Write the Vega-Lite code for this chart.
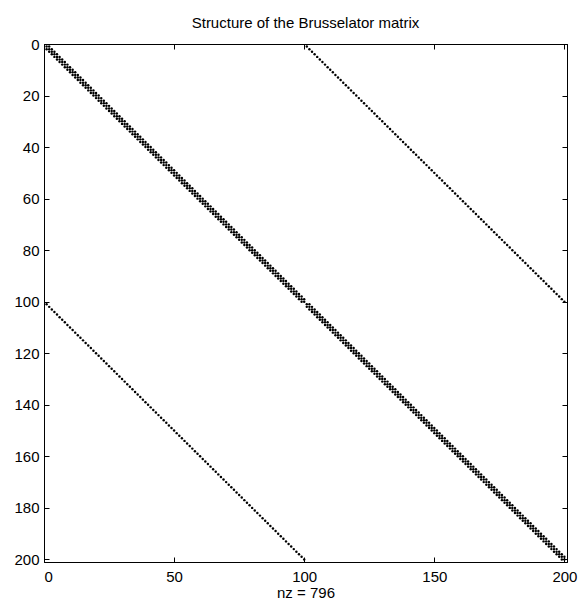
{
  "$schema": "https://vega.github.io/schema/vega-lite/v6.json",
  "width": 523,
  "height": 518,
  "autosize": "none",
  "padding": {"left": 44, "top": 44, "right": 11, "bottom": 42},
  "background": "white",
  "title": {"text": "Structure of the Brusselator matrix", "font": "Liberation Sans", "fontSize": 15, "fontWeight": "normal", "color": "black", "anchor": "middle", "offset": 6},
  "data": {"values": [
{"i":1,"j":1},{"i":1,"j":2},{"i":2,"j":1},
{"i":2,"j":2},{"i":2,"j":3},{"i":3,"j":2},
{"i":3,"j":3},{"i":3,"j":4},{"i":4,"j":3},
{"i":4,"j":4},{"i":4,"j":5},{"i":5,"j":4},
{"i":5,"j":5},{"i":5,"j":6},{"i":6,"j":5},
{"i":6,"j":6},{"i":6,"j":7},{"i":7,"j":6},
{"i":7,"j":7},{"i":7,"j":8},{"i":8,"j":7},
{"i":8,"j":8},{"i":8,"j":9},{"i":9,"j":8},
{"i":9,"j":9},{"i":9,"j":10},{"i":10,"j":9},
{"i":10,"j":10},{"i":10,"j":11},{"i":11,"j":10},
{"i":11,"j":11},{"i":11,"j":12},{"i":12,"j":11},
{"i":12,"j":12},{"i":12,"j":13},{"i":13,"j":12},
{"i":13,"j":13},{"i":13,"j":14},{"i":14,"j":13},
{"i":14,"j":14},{"i":14,"j":15},{"i":15,"j":14},
{"i":15,"j":15},{"i":15,"j":16},{"i":16,"j":15},
{"i":16,"j":16},{"i":16,"j":17},{"i":17,"j":16},
{"i":17,"j":17},{"i":17,"j":18},{"i":18,"j":17},
{"i":18,"j":18},{"i":18,"j":19},{"i":19,"j":18},
{"i":19,"j":19},{"i":19,"j":20},{"i":20,"j":19},
{"i":20,"j":20},{"i":20,"j":21},{"i":21,"j":20},
{"i":21,"j":21},{"i":21,"j":22},{"i":22,"j":21},
{"i":22,"j":22},{"i":22,"j":23},{"i":23,"j":22},
{"i":23,"j":23},{"i":23,"j":24},{"i":24,"j":23},
{"i":24,"j":24},{"i":24,"j":25},{"i":25,"j":24},
{"i":25,"j":25},{"i":25,"j":26},{"i":26,"j":25},
{"i":26,"j":26},{"i":26,"j":27},{"i":27,"j":26},
{"i":27,"j":27},{"i":27,"j":28},{"i":28,"j":27},
{"i":28,"j":28},{"i":28,"j":29},{"i":29,"j":28},
{"i":29,"j":29},{"i":29,"j":30},{"i":30,"j":29},
{"i":30,"j":30},{"i":30,"j":31},{"i":31,"j":30},
{"i":31,"j":31},{"i":31,"j":32},{"i":32,"j":31},
{"i":32,"j":32},{"i":32,"j":33},{"i":33,"j":32},
{"i":33,"j":33},{"i":33,"j":34},{"i":34,"j":33},
{"i":34,"j":34},{"i":34,"j":35},{"i":35,"j":34},
{"i":35,"j":35},{"i":35,"j":36},{"i":36,"j":35},
{"i":36,"j":36},{"i":36,"j":37},{"i":37,"j":36},
{"i":37,"j":37},{"i":37,"j":38},{"i":38,"j":37},
{"i":38,"j":38},{"i":38,"j":39},{"i":39,"j":38},
{"i":39,"j":39},{"i":39,"j":40},{"i":40,"j":39},
{"i":40,"j":40},{"i":40,"j":41},{"i":41,"j":40},
{"i":41,"j":41},{"i":41,"j":42},{"i":42,"j":41},
{"i":42,"j":42},{"i":42,"j":43},{"i":43,"j":42},
{"i":43,"j":43},{"i":43,"j":44},{"i":44,"j":43},
{"i":44,"j":44},{"i":44,"j":45},{"i":45,"j":44},
{"i":45,"j":45},{"i":45,"j":46},{"i":46,"j":45},
{"i":46,"j":46},{"i":46,"j":47},{"i":47,"j":46},
{"i":47,"j":47},{"i":47,"j":48},{"i":48,"j":47},
{"i":48,"j":48},{"i":48,"j":49},{"i":49,"j":48},
{"i":49,"j":49},{"i":49,"j":50},{"i":50,"j":49},
{"i":50,"j":50},{"i":50,"j":51},{"i":51,"j":50},
{"i":51,"j":51},{"i":51,"j":52},{"i":52,"j":51},
{"i":52,"j":52},{"i":52,"j":53},{"i":53,"j":52},
{"i":53,"j":53},{"i":53,"j":54},{"i":54,"j":53},
{"i":54,"j":54},{"i":54,"j":55},{"i":55,"j":54},
{"i":55,"j":55},{"i":55,"j":56},{"i":56,"j":55},
{"i":56,"j":56},{"i":56,"j":57},{"i":57,"j":56},
{"i":57,"j":57},{"i":57,"j":58},{"i":58,"j":57},
{"i":58,"j":58},{"i":58,"j":59},{"i":59,"j":58},
{"i":59,"j":59},{"i":59,"j":60},{"i":60,"j":59},
{"i":60,"j":60},{"i":60,"j":61},{"i":61,"j":60},
{"i":61,"j":61},{"i":61,"j":62},{"i":62,"j":61},
{"i":62,"j":62},{"i":62,"j":63},{"i":63,"j":62},
{"i":63,"j":63},{"i":63,"j":64},{"i":64,"j":63},
{"i":64,"j":64},{"i":64,"j":65},{"i":65,"j":64},
{"i":65,"j":65},{"i":65,"j":66},{"i":66,"j":65},
{"i":66,"j":66},{"i":66,"j":67},{"i":67,"j":66},
{"i":67,"j":67},{"i":67,"j":68},{"i":68,"j":67},
{"i":68,"j":68},{"i":68,"j":69},{"i":69,"j":68},
{"i":69,"j":69},{"i":69,"j":70},{"i":70,"j":69},
{"i":70,"j":70},{"i":70,"j":71},{"i":71,"j":70},
{"i":71,"j":71},{"i":71,"j":72},{"i":72,"j":71},
{"i":72,"j":72},{"i":72,"j":73},{"i":73,"j":72},
{"i":73,"j":73},{"i":73,"j":74},{"i":74,"j":73},
{"i":74,"j":74},{"i":74,"j":75},{"i":75,"j":74},
{"i":75,"j":75},{"i":75,"j":76},{"i":76,"j":75},
{"i":76,"j":76},{"i":76,"j":77},{"i":77,"j":76},
{"i":77,"j":77},{"i":77,"j":78},{"i":78,"j":77},
{"i":78,"j":78},{"i":78,"j":79},{"i":79,"j":78},
{"i":79,"j":79},{"i":79,"j":80},{"i":80,"j":79},
{"i":80,"j":80},{"i":80,"j":81},{"i":81,"j":80},
{"i":81,"j":81},{"i":81,"j":82},{"i":82,"j":81},
{"i":82,"j":82},{"i":82,"j":83},{"i":83,"j":82},
{"i":83,"j":83},{"i":83,"j":84},{"i":84,"j":83},
{"i":84,"j":84},{"i":84,"j":85},{"i":85,"j":84},
{"i":85,"j":85},{"i":85,"j":86},{"i":86,"j":85},
{"i":86,"j":86},{"i":86,"j":87},{"i":87,"j":86},
{"i":87,"j":87},{"i":87,"j":88},{"i":88,"j":87},
{"i":88,"j":88},{"i":88,"j":89},{"i":89,"j":88},
{"i":89,"j":89},{"i":89,"j":90},{"i":90,"j":89},
{"i":90,"j":90},{"i":90,"j":91},{"i":91,"j":90},
{"i":91,"j":91},{"i":91,"j":92},{"i":92,"j":91},
{"i":92,"j":92},{"i":92,"j":93},{"i":93,"j":92},
{"i":93,"j":93},{"i":93,"j":94},{"i":94,"j":93},
{"i":94,"j":94},{"i":94,"j":95},{"i":95,"j":94},
{"i":95,"j":95},{"i":95,"j":96},{"i":96,"j":95},
{"i":96,"j":96},{"i":96,"j":97},{"i":97,"j":96},
{"i":97,"j":97},{"i":97,"j":98},{"i":98,"j":97},
{"i":98,"j":98},{"i":98,"j":99},{"i":99,"j":98},
{"i":99,"j":99},{"i":99,"j":100},{"i":100,"j":99},
{"i":100,"j":100},
{"i":101,"j":101},{"i":101,"j":102},{"i":102,"j":101},
{"i":102,"j":102},{"i":102,"j":103},{"i":103,"j":102},
{"i":103,"j":103},{"i":103,"j":104},{"i":104,"j":103},
{"i":104,"j":104},{"i":104,"j":105},{"i":105,"j":104},
{"i":105,"j":105},{"i":105,"j":106},{"i":106,"j":105},
{"i":106,"j":106},{"i":106,"j":107},{"i":107,"j":106},
{"i":107,"j":107},{"i":107,"j":108},{"i":108,"j":107},
{"i":108,"j":108},{"i":108,"j":109},{"i":109,"j":108},
{"i":109,"j":109},{"i":109,"j":110},{"i":110,"j":109},
{"i":110,"j":110},{"i":110,"j":111},{"i":111,"j":110},
{"i":111,"j":111},{"i":111,"j":112},{"i":112,"j":111},
{"i":112,"j":112},{"i":112,"j":113},{"i":113,"j":112},
{"i":113,"j":113},{"i":113,"j":114},{"i":114,"j":113},
{"i":114,"j":114},{"i":114,"j":115},{"i":115,"j":114},
{"i":115,"j":115},{"i":115,"j":116},{"i":116,"j":115},
{"i":116,"j":116},{"i":116,"j":117},{"i":117,"j":116},
{"i":117,"j":117},{"i":117,"j":118},{"i":118,"j":117},
{"i":118,"j":118},{"i":118,"j":119},{"i":119,"j":118},
{"i":119,"j":119},{"i":119,"j":120},{"i":120,"j":119},
{"i":120,"j":120},{"i":120,"j":121},{"i":121,"j":120},
{"i":121,"j":121},{"i":121,"j":122},{"i":122,"j":121},
{"i":122,"j":122},{"i":122,"j":123},{"i":123,"j":122},
{"i":123,"j":123},{"i":123,"j":124},{"i":124,"j":123},
{"i":124,"j":124},{"i":124,"j":125},{"i":125,"j":124},
{"i":125,"j":125},{"i":125,"j":126},{"i":126,"j":125},
{"i":126,"j":126},{"i":126,"j":127},{"i":127,"j":126},
{"i":127,"j":127},{"i":127,"j":128},{"i":128,"j":127},
{"i":128,"j":128},{"i":128,"j":129},{"i":129,"j":128},
{"i":129,"j":129},{"i":129,"j":130},{"i":130,"j":129},
{"i":130,"j":130},{"i":130,"j":131},{"i":131,"j":130},
{"i":131,"j":131},{"i":131,"j":132},{"i":132,"j":131},
{"i":132,"j":132},{"i":132,"j":133},{"i":133,"j":132},
{"i":133,"j":133},{"i":133,"j":134},{"i":134,"j":133},
{"i":134,"j":134},{"i":134,"j":135},{"i":135,"j":134},
{"i":135,"j":135},{"i":135,"j":136},{"i":136,"j":135},
{"i":136,"j":136},{"i":136,"j":137},{"i":137,"j":136},
{"i":137,"j":137},{"i":137,"j":138},{"i":138,"j":137},
{"i":138,"j":138},{"i":138,"j":139},{"i":139,"j":138},
{"i":139,"j":139},{"i":139,"j":140},{"i":140,"j":139},
{"i":140,"j":140},{"i":140,"j":141},{"i":141,"j":140},
{"i":141,"j":141},{"i":141,"j":142},{"i":142,"j":141},
{"i":142,"j":142},{"i":142,"j":143},{"i":143,"j":142},
{"i":143,"j":143},{"i":143,"j":144},{"i":144,"j":143},
{"i":144,"j":144},{"i":144,"j":145},{"i":145,"j":144},
{"i":145,"j":145},{"i":145,"j":146},{"i":146,"j":145},
{"i":146,"j":146},{"i":146,"j":147},{"i":147,"j":146},
{"i":147,"j":147},{"i":147,"j":148},{"i":148,"j":147},
{"i":148,"j":148},{"i":148,"j":149},{"i":149,"j":148},
{"i":149,"j":149},{"i":149,"j":150},{"i":150,"j":149},
{"i":150,"j":150},{"i":150,"j":151},{"i":151,"j":150},
{"i":151,"j":151},{"i":151,"j":152},{"i":152,"j":151},
{"i":152,"j":152},{"i":152,"j":153},{"i":153,"j":152},
{"i":153,"j":153},{"i":153,"j":154},{"i":154,"j":153},
{"i":154,"j":154},{"i":154,"j":155},{"i":155,"j":154},
{"i":155,"j":155},{"i":155,"j":156},{"i":156,"j":155},
{"i":156,"j":156},{"i":156,"j":157},{"i":157,"j":156},
{"i":157,"j":157},{"i":157,"j":158},{"i":158,"j":157},
{"i":158,"j":158},{"i":158,"j":159},{"i":159,"j":158},
{"i":159,"j":159},{"i":159,"j":160},{"i":160,"j":159},
{"i":160,"j":160},{"i":160,"j":161},{"i":161,"j":160},
{"i":161,"j":161},{"i":161,"j":162},{"i":162,"j":161},
{"i":162,"j":162},{"i":162,"j":163},{"i":163,"j":162},
{"i":163,"j":163},{"i":163,"j":164},{"i":164,"j":163},
{"i":164,"j":164},{"i":164,"j":165},{"i":165,"j":164},
{"i":165,"j":165},{"i":165,"j":166},{"i":166,"j":165},
{"i":166,"j":166},{"i":166,"j":167},{"i":167,"j":166},
{"i":167,"j":167},{"i":167,"j":168},{"i":168,"j":167},
{"i":168,"j":168},{"i":168,"j":169},{"i":169,"j":168},
{"i":169,"j":169},{"i":169,"j":170},{"i":170,"j":169},
{"i":170,"j":170},{"i":170,"j":171},{"i":171,"j":170},
{"i":171,"j":171},{"i":171,"j":172},{"i":172,"j":171},
{"i":172,"j":172},{"i":172,"j":173},{"i":173,"j":172},
{"i":173,"j":173},{"i":173,"j":174},{"i":174,"j":173},
{"i":174,"j":174},{"i":174,"j":175},{"i":175,"j":174},
{"i":175,"j":175},{"i":175,"j":176},{"i":176,"j":175},
{"i":176,"j":176},{"i":176,"j":177},{"i":177,"j":176},
{"i":177,"j":177},{"i":177,"j":178},{"i":178,"j":177},
{"i":178,"j":178},{"i":178,"j":179},{"i":179,"j":178},
{"i":179,"j":179},{"i":179,"j":180},{"i":180,"j":179},
{"i":180,"j":180},{"i":180,"j":181},{"i":181,"j":180},
{"i":181,"j":181},{"i":181,"j":182},{"i":182,"j":181},
{"i":182,"j":182},{"i":182,"j":183},{"i":183,"j":182},
{"i":183,"j":183},{"i":183,"j":184},{"i":184,"j":183},
{"i":184,"j":184},{"i":184,"j":185},{"i":185,"j":184},
{"i":185,"j":185},{"i":185,"j":186},{"i":186,"j":185},
{"i":186,"j":186},{"i":186,"j":187},{"i":187,"j":186},
{"i":187,"j":187},{"i":187,"j":188},{"i":188,"j":187},
{"i":188,"j":188},{"i":188,"j":189},{"i":189,"j":188},
{"i":189,"j":189},{"i":189,"j":190},{"i":190,"j":189},
{"i":190,"j":190},{"i":190,"j":191},{"i":191,"j":190},
{"i":191,"j":191},{"i":191,"j":192},{"i":192,"j":191},
{"i":192,"j":192},{"i":192,"j":193},{"i":193,"j":192},
{"i":193,"j":193},{"i":193,"j":194},{"i":194,"j":193},
{"i":194,"j":194},{"i":194,"j":195},{"i":195,"j":194},
{"i":195,"j":195},{"i":195,"j":196},{"i":196,"j":195},
{"i":196,"j":196},{"i":196,"j":197},{"i":197,"j":196},
{"i":197,"j":197},{"i":197,"j":198},{"i":198,"j":197},
{"i":198,"j":198},{"i":198,"j":199},{"i":199,"j":198},
{"i":199,"j":199},{"i":199,"j":200},{"i":200,"j":199},
{"i":200,"j":200},
{"i":1,"j":101},{"i":101,"j":1},{"i":2,"j":102},{"i":102,"j":2},
{"i":3,"j":103},{"i":103,"j":3},{"i":4,"j":104},{"i":104,"j":4},
{"i":5,"j":105},{"i":105,"j":5},{"i":6,"j":106},{"i":106,"j":6},
{"i":7,"j":107},{"i":107,"j":7},{"i":8,"j":108},{"i":108,"j":8},
{"i":9,"j":109},{"i":109,"j":9},{"i":10,"j":110},{"i":110,"j":10},
{"i":11,"j":111},{"i":111,"j":11},{"i":12,"j":112},{"i":112,"j":12},
{"i":13,"j":113},{"i":113,"j":13},{"i":14,"j":114},{"i":114,"j":14},
{"i":15,"j":115},{"i":115,"j":15},{"i":16,"j":116},{"i":116,"j":16},
{"i":17,"j":117},{"i":117,"j":17},{"i":18,"j":118},{"i":118,"j":18},
{"i":19,"j":119},{"i":119,"j":19},{"i":20,"j":120},{"i":120,"j":20},
{"i":21,"j":121},{"i":121,"j":21},{"i":22,"j":122},{"i":122,"j":22},
{"i":23,"j":123},{"i":123,"j":23},{"i":24,"j":124},{"i":124,"j":24},
{"i":25,"j":125},{"i":125,"j":25},{"i":26,"j":126},{"i":126,"j":26},
{"i":27,"j":127},{"i":127,"j":27},{"i":28,"j":128},{"i":128,"j":28},
{"i":29,"j":129},{"i":129,"j":29},{"i":30,"j":130},{"i":130,"j":30},
{"i":31,"j":131},{"i":131,"j":31},{"i":32,"j":132},{"i":132,"j":32},
{"i":33,"j":133},{"i":133,"j":33},{"i":34,"j":134},{"i":134,"j":34},
{"i":35,"j":135},{"i":135,"j":35},{"i":36,"j":136},{"i":136,"j":36},
{"i":37,"j":137},{"i":137,"j":37},{"i":38,"j":138},{"i":138,"j":38},
{"i":39,"j":139},{"i":139,"j":39},{"i":40,"j":140},{"i":140,"j":40},
{"i":41,"j":141},{"i":141,"j":41},{"i":42,"j":142},{"i":142,"j":42},
{"i":43,"j":143},{"i":143,"j":43},{"i":44,"j":144},{"i":144,"j":44},
{"i":45,"j":145},{"i":145,"j":45},{"i":46,"j":146},{"i":146,"j":46},
{"i":47,"j":147},{"i":147,"j":47},{"i":48,"j":148},{"i":148,"j":48},
{"i":49,"j":149},{"i":149,"j":49},{"i":50,"j":150},{"i":150,"j":50},
{"i":51,"j":151},{"i":151,"j":51},{"i":52,"j":152},{"i":152,"j":52},
{"i":53,"j":153},{"i":153,"j":53},{"i":54,"j":154},{"i":154,"j":54},
{"i":55,"j":155},{"i":155,"j":55},{"i":56,"j":156},{"i":156,"j":56},
{"i":57,"j":157},{"i":157,"j":57},{"i":58,"j":158},{"i":158,"j":58},
{"i":59,"j":159},{"i":159,"j":59},{"i":60,"j":160},{"i":160,"j":60},
{"i":61,"j":161},{"i":161,"j":61},{"i":62,"j":162},{"i":162,"j":62},
{"i":63,"j":163},{"i":163,"j":63},{"i":64,"j":164},{"i":164,"j":64},
{"i":65,"j":165},{"i":165,"j":65},{"i":66,"j":166},{"i":166,"j":66},
{"i":67,"j":167},{"i":167,"j":67},{"i":68,"j":168},{"i":168,"j":68},
{"i":69,"j":169},{"i":169,"j":69},{"i":70,"j":170},{"i":170,"j":70},
{"i":71,"j":171},{"i":171,"j":71},{"i":72,"j":172},{"i":172,"j":72},
{"i":73,"j":173},{"i":173,"j":73},{"i":74,"j":174},{"i":174,"j":74},
{"i":75,"j":175},{"i":175,"j":75},{"i":76,"j":176},{"i":176,"j":76},
{"i":77,"j":177},{"i":177,"j":77},{"i":78,"j":178},{"i":178,"j":78},
{"i":79,"j":179},{"i":179,"j":79},{"i":80,"j":180},{"i":180,"j":80},
{"i":81,"j":181},{"i":181,"j":81},{"i":82,"j":182},{"i":182,"j":82},
{"i":83,"j":183},{"i":183,"j":83},{"i":84,"j":184},{"i":184,"j":84},
{"i":85,"j":185},{"i":185,"j":85},{"i":86,"j":186},{"i":186,"j":86},
{"i":87,"j":187},{"i":187,"j":87},{"i":88,"j":188},{"i":188,"j":88},
{"i":89,"j":189},{"i":189,"j":89},{"i":90,"j":190},{"i":190,"j":90},
{"i":91,"j":191},{"i":191,"j":91},{"i":92,"j":192},{"i":192,"j":92},
{"i":93,"j":193},{"i":193,"j":93},{"i":94,"j":194},{"i":194,"j":94},
{"i":95,"j":195},{"i":195,"j":95},{"i":96,"j":196},{"i":196,"j":96},
{"i":97,"j":197},{"i":197,"j":97},{"i":98,"j":198},{"i":198,"j":98},
{"i":99,"j":199},{"i":199,"j":99},{"i":100,"j":200},{"i":200,"j":100}
  ]},
  "layer": [
    {
      "mark": {"type": "point", "shape": "circle", "filled": true, "size": 6, "color": "black", "opacity": 1},
      "encoding": {
        "x": {"field": "j", "type": "quantitative",
              "scale": {"domain": [0, 201], "nice": false, "zero": false},
              "axis": {"orient": "bottom", "values": [0, 50, 100, 150, 200], "title": "nz = 796", "labelPadding": 12, "titlePadding": 1}},
        "y": {"field": "i", "type": "quantitative",
              "scale": {"domain": [0, 201], "nice": false, "zero": false, "reverse": true},
              "axis": {"orient": "left", "values": [0, 20, 40, 60, 80, 100, 120, 140, 160, 180, 200], "title": null, "labelPadding": 10}}
      }
    },
    {
      "mark": {"type": "point", "opacity": 0},
      "encoding": {
        "x": {"field": "j", "type": "quantitative",
              "scale": {"domain": [0, 201], "nice": false, "zero": false},
              "axis": {"orient": "top", "values": [0, 50, 100, 150, 200], "labels": false, "title": null}},
        "y": {"field": "i", "type": "quantitative",
              "scale": {"domain": [0, 201], "nice": false, "zero": false, "reverse": true},
              "axis": {"orient": "right", "values": [0, 20, 40, 60, 80, 100, 120, 140, 160, 180, 200], "labels": false, "title": null}}
      }
    }
  ],
  "resolve": {"axis": {"x": "independent", "y": "independent"}},
  "config": {
    "view": {"stroke": "black", "strokeWidth": 1},
    "axis": {
      "grid": false,
      "domainColor": "black",
      "tickColor": "black",
      "tickSize": -5,
      "labelFont": "Liberation Sans",
      "labelFontSize": 15,
      "labelColor": "black",
      "titleFont": "Liberation Sans",
      "titleFontSize": 15,
      "titleFontWeight": "normal",
      "titleColor": "black"
    }
  }
}
